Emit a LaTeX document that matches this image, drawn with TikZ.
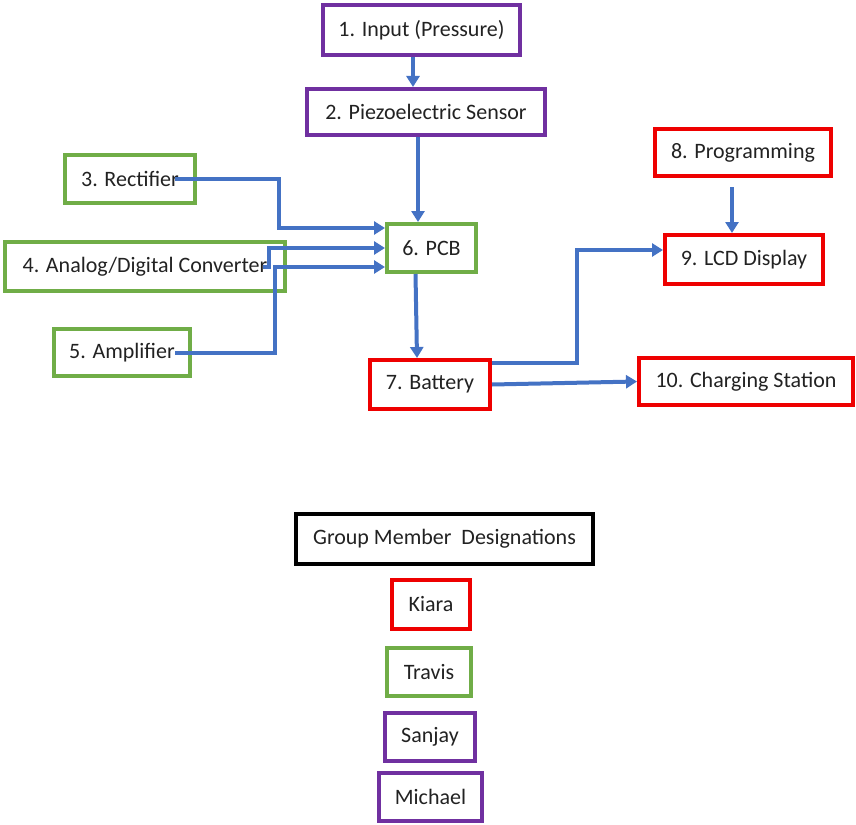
\documentclass[tikz,border=0pt]{standalone}
\usepackage{fontspec}
\setmainfont{Carlito}
\usetikzlibrary{arrows.meta,calc}
\definecolor{cpurple}{HTML}{7030A0}
\definecolor{cgreen}{HTML}{70AD47}
\definecolor{cred}{HTML}{EE0000}
\definecolor{cblue}{HTML}{4472C4}
\definecolor{ctext}{HTML}{222222}
\begin{document}
\begin{tikzpicture}[x=1pt,y=1pt,
  box/.style={draw,line width=4pt,fill=white,inner sep=0pt,text=ctext,
    font=\fontsize{22}{26}\selectfont},
  pbox/.style={box,draw=cpurple},
  gbox/.style={box,draw=cgreen},
  rbox/.style={box,draw=cred},
  kbox/.style={box,draw=black},
  conn/.style={draw=cblue,line width=4pt,-{Triangle[length=11pt,width=13pt]}},
  sz/.style 2 args={minimum width=#1pt,minimum height=#2pt}]
\useasboundingbox (0,0) rectangle (856,-824);
% blocks
\node[pbox,sz={197}{50}] (n1) at (421.5,-30) {1. Input (Pressure)};
\node[pbox,sz={238}{46}] (n2) at (426,-112) {2. Piezoelectric Sensor};
\node[gbox,sz={130}{48}] (n3) at (130,-179) {3. Rectifier};
\node[gbox,sz={280}{49}] (n4) at (145,-266.5) {4. Analog/Digital Converter};
\node[gbox,sz={136}{47}] (n5) at (122,-352.5) {5. Amplifier};
\node[gbox,sz={89}{48}] (n6) at (431.5,-248) {6. PCB};
\node[rbox,sz={120}{49}] (n7) at (430,-384.5) {7. Battery};
\node[rbox,sz={176}{47}] (n8) at (743,-152.5) {8. Programming};
\node[rbox,sz={158}{49}] (n9) at (744,-259.5) {9. LCD Display};
\node[rbox,sz={214}{47}] (n10) at (746,-381.5) {10. Charging Station};
% legend
\node[kbox,sz={297}{50}] (lg) at (444.5,-539) {Group Member\ \ Designations};
\node[rbox,sz={78}{49}] (lk) at (431,-604.5) {Kiara};
\node[gbox,sz={84}{48}] (lt) at (429,-672) {Travis};
\node[pbox,sz={90}{48}] (ls) at (430,-737) {Sanjay};
\node[pbox,sz={103}{48}] (lm) at (430.5,-797) {Michael};
% connectors
\coordinate (s3) at ([xshift=-22pt]n3.east);
\coordinate (s4) at ([xshift=-24pt]n4.east);
\coordinate (s5) at ([xshift=-17pt]n5.east);
\coordinate (s8) at ([xshift=-11pt,yshift=-9pt]n8.south);
\draw[conn] ([xshift=-8.5pt]n1.south) -- ([xshift=-13pt]n2.north);
\draw[conn] ([xshift=-8pt]n2.south) -- ([xshift=-13.5pt]n6.north);
\draw[conn] (s3) -- ++(104,0) |- ([yshift=20pt]n6.west);
\draw[conn] (s4) -- ++(6,0) |- (n6.west);
\draw[conn] (s5) -- ++(100,0) |- ([yshift=-19pt]n6.west);
\draw[conn] ([xshift=-16pt]n6.south) -- ([xshift=-13pt]n7.north);
\draw[conn] ([yshift=21.5pt]n7.east) -- ++(85,0) |- ([yshift=9.5pt]n9.west);
\draw[conn] (n7.east) -- (n10.west);
\draw[conn] (s8) -- ([xshift=-12pt]n9.north);
\end{tikzpicture}
\end{document}
